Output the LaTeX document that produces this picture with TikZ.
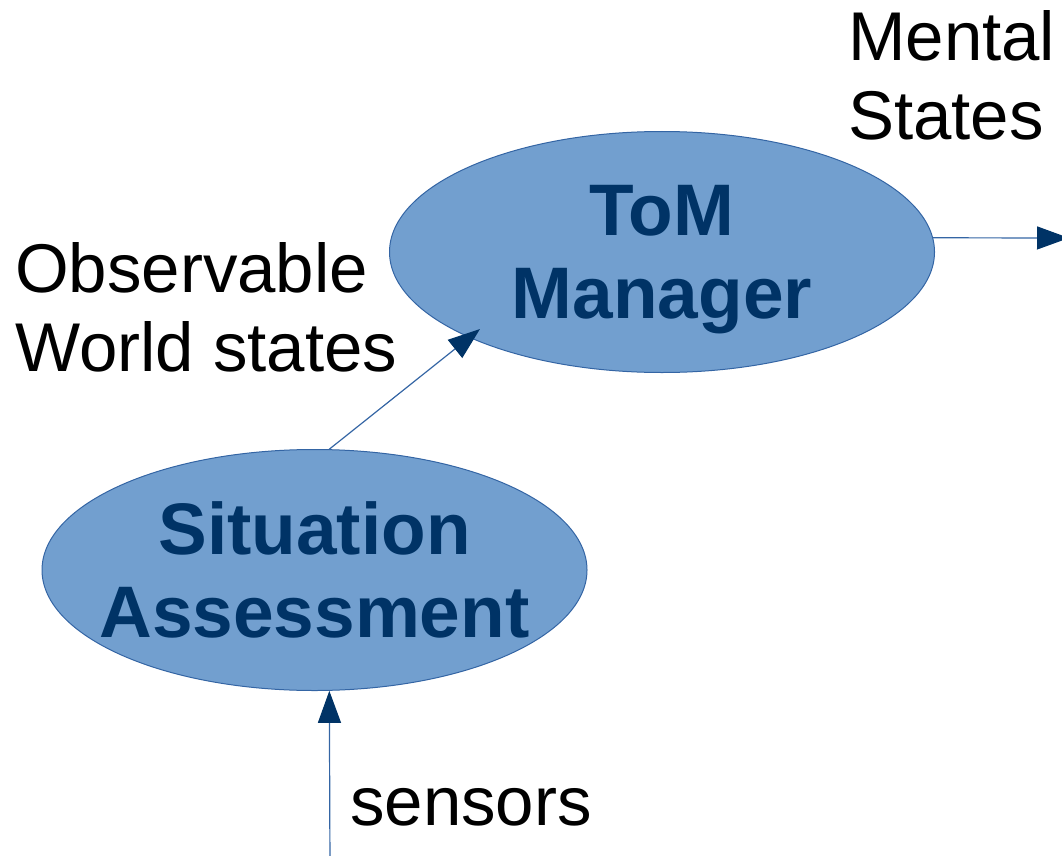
\documentclass[tikz,border=0pt]{standalone}
\usepackage{fontspec}
\setmainfont{Liberation Sans}
\usetikzlibrary{arrows.meta,positioning,shapes.geometric}
\definecolor{tomfill}{HTML}{729FCF}
\definecolor{tomline}{HTML}{3465A4}
\definecolor{tomtext}{HTML}{003366}

\begin{document}
\begin{tikzpicture}[x=1pt,y=-1pt,
  blob/.style={ellipse,draw=tomline,fill=tomfill,line width=1pt,minimum width=545pt,minimum height=241pt,inner sep=0pt},
  blobtext/.style={inner sep=0pt,align=center,text=tomtext,font=\fontsize{73}{83}\selectfont\bfseries},
  lab/.style={inner sep=0pt,align=left,font=\fontsize{69}{79}\selectfont},
  flow/.style={draw=tomline,line width=1.2pt,-{Triangle[length=32pt,width=23pt,color=tomtext]}}]
\useasboundingbox (0,0) rectangle (1062,856);
% the two processes
\node[blob] (tom) at (662,252) {};
\node[blobtext,yshift=-8pt] (tomtext) at (tom) {ToM\\Manager};
\node[blob] (sa) at (314.5,570) {};
\node[blobtext] (satext) at (sa) {Situation\\Assessment};
% labels
\node[lab,anchor=north west] (mental) at (848,10) {Mental\\States};
\node[lab,anchor=north west] (obs) at (15,242) {Observable\\World states};
\node[lab,anchor=base west] (sens) at (350,825) {sensors};
% connectors, free ends as coordinates
\coordinate (mout) at (1069,238);
\coordinate (obsin) at (480,329);
\coordinate (sensin) at (330,870);
\draw[flow] (tom.3) -- (mout);
\draw[flow] (sa.83) -- (obsin);
\draw[flow] (sensin) -- (sa.-83);
\end{tikzpicture}
\end{document}
